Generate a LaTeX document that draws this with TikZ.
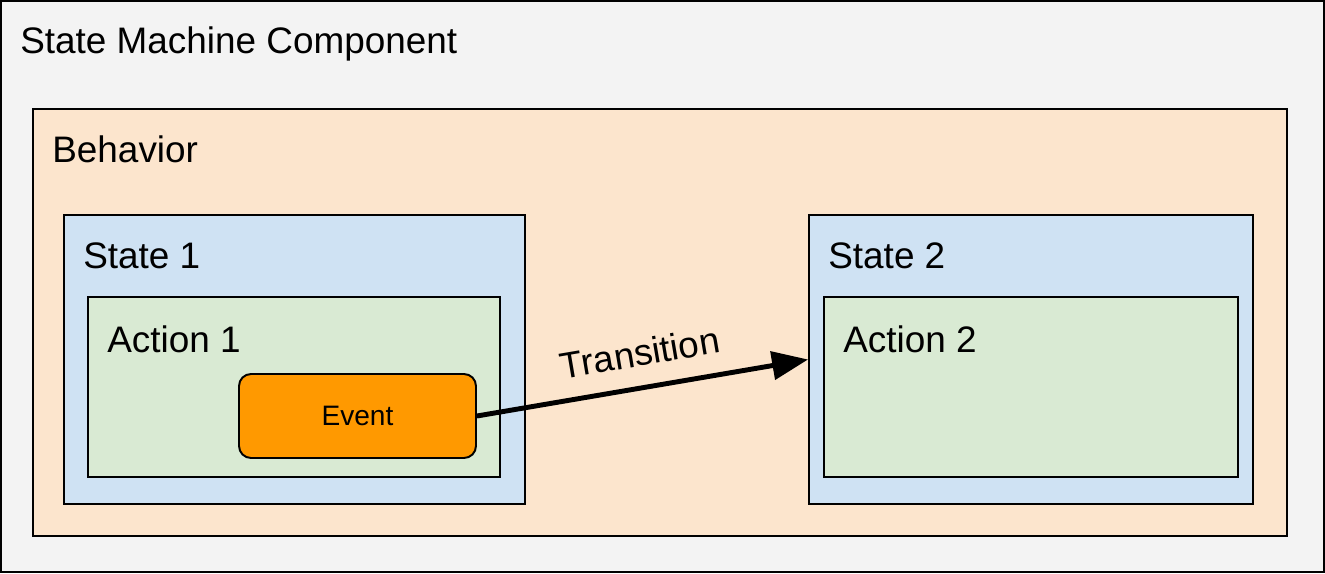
\documentclass[tikz,border=0pt]{standalone}
\usepackage{fontspec}
\setmainfont{Liberation Sans}
\usetikzlibrary{arrows.meta,positioning,calc}

\definecolor{compgray}{HTML}{F3F3F3}
\definecolor{behavpeach}{HTML}{FCE5CD}
\definecolor{stateblue}{HTML}{CFE2F3}
\definecolor{actiongreen}{HTML}{D9EAD3}
\definecolor{eventorange}{HTML}{FF9900}

\begin{document}
\begin{tikzpicture}[
    x=0.02cm, y=-0.02cm,
    frame/.style={draw=black, line width=1.1pt, inner sep=0pt, anchor=center},
    title/.style={font=\fontsize{21}{25}\selectfont, anchor=base west, inner sep=0pt},
    evt/.style={frame, fill=eventorange, rounded corners=0.24cm,
                minimum width=4.74cm, minimum height=1.68cm,
                font=\fontsize{16}{19}\selectfont},
    trans/.style={-{Triangle[length=0.72cm, width=0.56cm]}, line width=2.8pt}
  ]
  \useasboundingbox (0,0) rectangle (1325,574);

  % ---------- nested containers --------------------------------------------
  \node[frame, fill=compgray, minimum width=26.46cm, minimum height=11.42cm]
        (comp) at (662.5,286.5) {};
  \node[frame, fill=behavpeach, minimum width=25.08cm, minimum height=8.54cm]
        (behav) at (660,322.5) {};

  \node[frame, fill=stateblue, minimum width=9.22cm, minimum height=5.78cm]
        (stateA) at (294.5,359.5) {};
  \node[frame, fill=actiongreen, minimum width=8.24cm, minimum height=3.6cm]
        (actionA) at (294,387) {};

  \node[frame, fill=stateblue, minimum width=8.88cm, minimum height=5.78cm]
        (stateB) at (1031,359.5) {};
  \node[frame, fill=actiongreen, minimum width=8.28cm, minimum height=3.6cm]
        (actionB) at (1031,387) {};

  \node[evt] (event) at (357.5,416) {Event};

  % ---------- titles -------------------------------------------------------
  \node[title] (compText)    at (20,54)   {State Machine Component};
  \node[title] (behavText)   at (52,163)  {Behavior};
  \node[title] (stateAText)  at (83,269)  {State 1};
  \node[title] (actionAText) at (107,352) {Action 1};
  \node[title] (stateBText)  at (828,269) {State 2};
  \node[title] (actionBText) at (843,352) {Action 2};

  % ---------- transition ---------------------------------------------------
  \draw[trans] (event.east) -- (stateB.west)
    node[pos=0.51, sloped, above=7.5pt, font=\fontsize{21}{25}\selectfont] (transText) {Transition};

\end{tikzpicture}
\end{document}
